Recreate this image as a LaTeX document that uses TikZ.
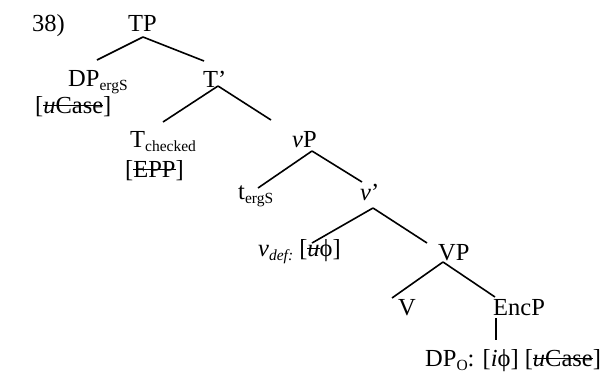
\documentclass[tikz,border=0pt]{standalone}
\usepackage{fontspec}
\setmainfont{Liberation Serif}
\newsavebox\strkbox
\newcommand\strk[1]{\sbox\strkbox{#1}\rlap{\rule[0.27em]{\wd\strkbox}{1.2pt}}\usebox\strkbox}
\newcommand\sbs[1]{\raisebox{-0.2em}{\fontsize{15.5}{15.5}\selectfont #1}}
\begin{document}
\begin{tikzpicture}[x=1pt,y=-1pt,
  lab/.style={inner sep=0pt, anchor=base west, font=\fontsize{24.5}{29}\selectfont},
  edge/.style={line width=1.6pt}]
\useasboundingbox (0,0) rectangle (603,378);
\node[lab] (num) at (32,31) {38)};
\node[lab] (TP) at (128,31) {TP};
\node[lab] (DP) at (68,86) {DP\sbs{ergS}};
\node[lab] (DPf) at (35,113) {[\strk{\textit{u}Case}]};
\node[lab] (Tb) at (203,87) {T’};
\node[lab] (T) at (130,147) {T\sbs{checked}};
\node[lab] (Tf) at (125,177) {[\strk{EPP}]};
\node[lab] (vP) at (292,147) {\textit{v}P};
\node[lab] (t) at (238,199) {t\sbs{ergS}};
\node[lab] (vb) at (360,200) {\textit{v}’};
\node[lab] (v) at (258,256) {\textit{v}\sbs{\itshape def:} [\strk{\textit{u}}ϕ]};
\node[lab] (VP) at (438,260) {VP};
\node[lab] (V) at (398,315) {V};
\node[lab] (EncP) at (493,315) {EncP};
\node[lab] (DPO) at (425,366) {DP\sbs{O}: [\textit{i}ϕ] [\strk{\textit{u}Case}]};
\draw[edge] ([shift={(15,6)}]TP.base west) -- ([shift={(29,-26)}]DP.base west);
\draw[edge] ([shift={(15,6)}]TP.base west) -- ([shift={(1,-26)}]Tb.base west);
\draw[edge] ([shift={(15,-1)}]Tb.base west) -- ([shift={(33,-25)}]T.base west);
\draw[edge] ([shift={(15,-1)}]Tb.base west) -- ([shift={(-21,-27)}]vP.base west);
\draw[edge] ([shift={(20,4)}]vP.base west) -- ([shift={(20,-11)}]t.base west);
\draw[edge] ([shift={(20,4)}]vP.base west) -- ([shift={(2,-18)}]vb.base west);
\draw[edge] ([shift={(13,8)}]vb.base west) -- ([shift={(54,-13)}]v.base west);
\draw[edge] ([shift={(13,8)}]vb.base west) -- ([shift={(-11,-17)}]VP.base west);
\draw[edge] ([shift={(5,2)}]VP.base west) -- ([shift={(-6,-17)}]V.base west);
\draw[edge] ([shift={(5,2)}]VP.base west) -- ([shift={(2,-18)}]EncP.base west);
\draw[edge] ([shift={(3,3)}]EncP.base west) -- ([shift={(71,-26)}]DPO.base west);
\end{tikzpicture}
\end{document}
